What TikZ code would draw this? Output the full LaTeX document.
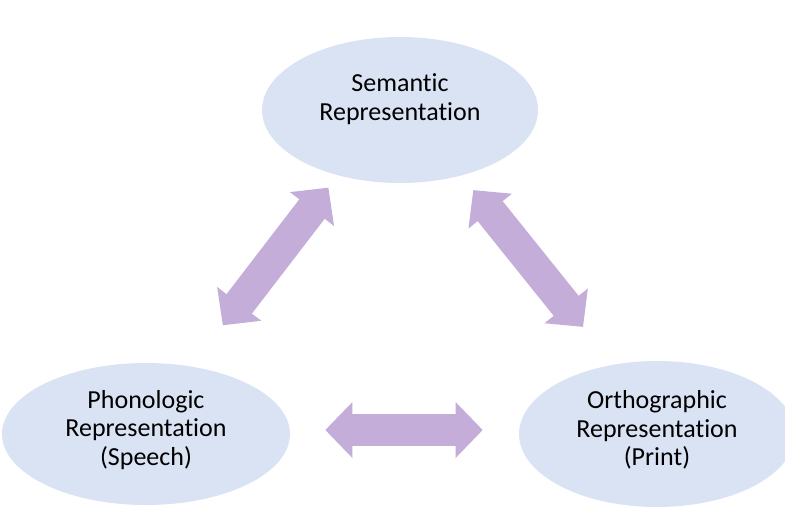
\documentclass[tikz,border=0pt]{standalone}
\usepackage{fontspec}
\setmainfont[Ligatures=NoCommon]{Carlito}
\usetikzlibrary{shapes.geometric, arrows.meta}
\definecolor{bubblefill}{RGB}{218,227,243}
\definecolor{linkfill}{RGB}{196,173,216}
\tikzset{
  % The 'bubble' style is the light blue ellipse of one representation
  bubble/.style={shape=ellipse, fill=bubblefill, draw=none, inner sep=0pt},
  % The 'caption' style is the centred text set in a bubble
  caption/.style={align=center, inner sep=0pt, font=\fontsize{19.5}{21.5}\selectfont, text=black},
  % The 'link' style is the broad two-headed purple arrow between bubbles
  link/.style={draw=linkfill, line width=24pt, {Triangle[length=20.25pt, width=40.5pt]}-{Triangle[length=20.25pt, width=40.5pt]}}
}

\begin{document}
\begin{tikzpicture}[x=0.75pt, y=-0.75pt]

  % Fix the page to the size of the reference
  \clip (0,0) rectangle (785,511);

  % Draw the three representations
  \node[bubble, minimum width=207pt, minimum height=109.5pt] at (400,110) (sem) {};
  \node[bubble, minimum width=216pt, minimum height=106.5pt] at (146,434) (pho) {};
  \node[bubble, minimum width=207pt, minimum height=109.5pt] at (657,434) (ort) {};

  % Texts sit a little above the middle of each bubble
  \node[caption, yshift=8.25pt] at (sem) (sem-text) {Semantic\\Representation};
  \node[caption, yshift=3pt] at (pho) (pho-text) {Phonologic\\Representation\\(Speech)};
  \node[caption, yshift=3pt] at (ort) (ort-text) {Orthographic\\Representation\\(Print)};

  % Draw the links between them
  \draw[link, shorten <=73.4pt, shorten >=102.8pt] ([xshift=-9pt]sem.center) -- ([xshift=-5pt]pho.center);
  \draw[link, shorten <=77pt, shorten >=103pt] ([xshift=6.75pt]sem.center) -- ([xshift=9pt]ort.center);
  \draw[link, shorten <=26.25pt, shorten >=27pt] ([yshift=3pt]pho.east) -- ([yshift=3pt]ort.west);

\end{tikzpicture}
\end{document}
